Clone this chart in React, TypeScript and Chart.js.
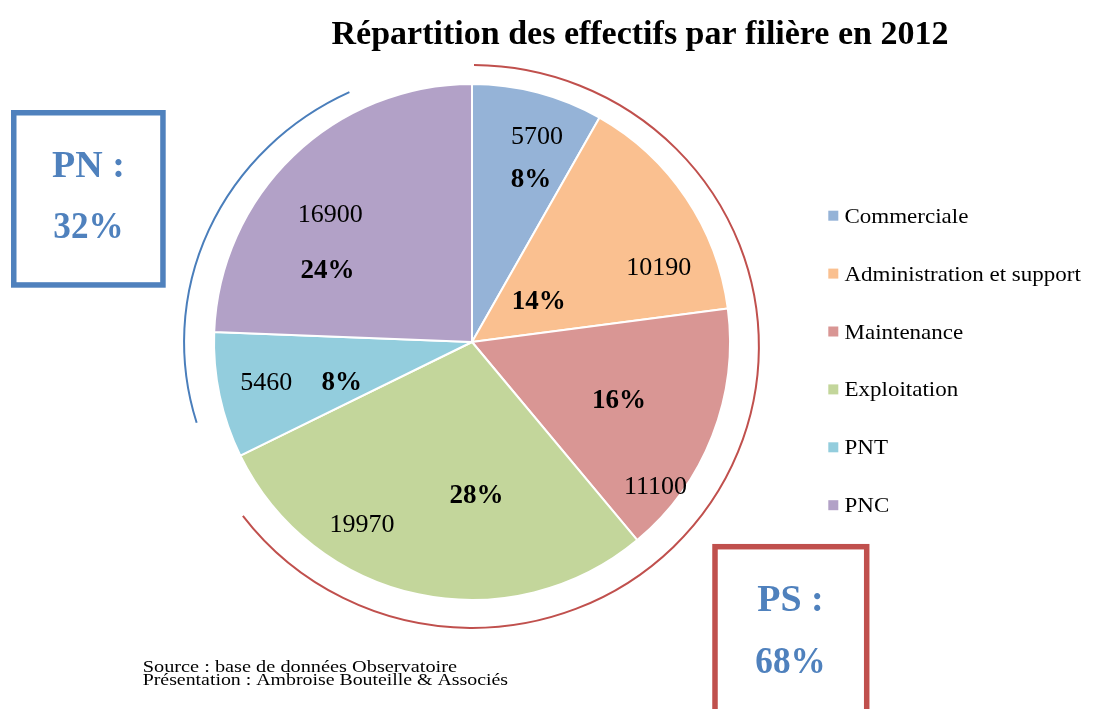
import React, { useEffect, useRef } from "react";
import { Chart, registerables } from "chart.js";

Chart.register(...registerables);

// ---- Data ----
const titleText = "Répartition des effectifs par filière en 2012";
const categories = ["Commerciale", "Administration et support", "Maintenance", "Exploitation", "PNT", "PNC"];
const effectifs = [5700, 10190, 11100, 19970, 5460, 16900];
const percentLabels = ["8%", "14%", "16%", "28%", "8%", "24%"];
const groupPN = ["PN :", "32%"];
const groupPS = ["PS :", "68%"];
const sourceLines = ["Source : base de données Observatoire", "Présentation : Ambroise Bouteille & Associés"];

// ---- Styles ----
const sliceColors = ["#95B3D7", "#FAC090", "#D99694", "#C3D69B", "#93CDDD", "#B2A1C7"];
const FONT = "'Liberation Serif', 'Times New Roman', serif";
const BLUE = "#4F81BD";
const RED = "#C0504D";

// label positions relative to pie centre, in units of the radius: [value dx, dy, percent dx, dy]
const labelPos = [
  [0.252, -0.803, 0.229, -0.638],
  [0.724, -0.295, 0.259, -0.163],
  [0.711, 0.554, 0.570, 0.221],
  [-0.426, 0.702, 0.017, 0.590],
  [-0.797, 0.152, -0.505, 0.149],
  [-0.549, -0.499, -0.560, -0.284],
];

function drawText(ctx: CanvasRenderingContext2D, text: string, x: number, y: number, font: string, color: string, align: CanvasTextAlign, sx = 1) {
  ctx.save();
  ctx.font = font;
  ctx.fillStyle = color;
  ctx.textAlign = align;
  ctx.textBaseline = "alphabetic";
  ctx.translate(x, y);
  ctx.scale(sx, 1);
  ctx.fillText(text, 0, 0);
  ctx.restore();
}

const decorPlugin = {
  id: "decor",
  afterDraw(chart: any) {
    const ctx: CanvasRenderingContext2D = chart.ctx;
    const arc = chart.getDatasetMeta(0).data[0];
    const cx = arc.x;
    const cy = arc.y;
    const r = arc.outerRadius;
    const deg = Math.PI / 180;

    // Title
    drawText(ctx, titleText, 640, 44, `bold 34px ${FONT}`, "#000", "center");

    // slice labels
    const vals = chart.data.datasets[0].data;
    vals.forEach((v: number, i: number) => {
      const p = labelPos[i];
      drawText(ctx, String(v), cx + p[0] * r, cy + p[1] * r + 8.8, `26px ${FONT}`, "#000", "center");
      drawText(ctx, percentLabels[i], cx + p[2] * r, cy + p[3] * r + 9.2, `bold 27px ${FONT}`, "#000", "center");
    });

    // Red arc (PS)
    ctx.save();
    ctx.strokeStyle = RED;
    ctx.lineWidth = 2;
    ctx.beginPath();
    ctx.ellipse(cx, cy + 0.0174 * r, 1.112 * r, 1.091 * r, 0, -89.6 * deg, 143.0 * deg, false);
    ctx.stroke();
    // Blue arc (PN)
    ctx.strokeStyle = "#4A7EBB";
    ctx.beginPath();
    ctx.ellipse(cx, cy, 1.116 * r, 1.07 * r, 0, 163 * deg, 244.8 * deg, false);
    ctx.stroke();
    ctx.restore();

    // Legend
    const colors = chart.data.datasets[0].backgroundColor;
    chart.data.labels.forEach((lab: string, i: number) => {
      const yc = 215.7 + 57.9 * i;
      ctx.fillStyle = colors[i];
      ctx.fillRect(828.3, yc - 5, 10, 10);
      drawText(ctx, lab, 844.5, yc + 7, `22px ${FONT}`, "#000", "left", 1.045);
    });

    // Boxes
    ctx.save();
    ctx.lineWidth = 5.5;
    ctx.strokeStyle = BLUE;
    ctx.strokeRect(13.75, 112.75, 149.2, 172.2);
    ctx.strokeStyle = RED;
    ctx.strokeRect(715, 546.7, 151.7, 200);
    ctx.restore();
    drawText(ctx, groupPN[0], 88.5, 177, `bold 38px ${FONT}`, BLUE, "center");
    drawText(ctx, groupPN[1], 88.5, 238.3, `bold 37px ${FONT}`, BLUE, "center", 0.95);
    drawText(ctx, groupPS[0], 790.5, 611, `bold 38px ${FONT}`, BLUE, "center");
    drawText(ctx, groupPS[1], 790.5, 672.7, `bold 37px ${FONT}`, BLUE, "center", 0.95);

    // Source
    drawText(ctx, sourceLines[0], 142.7, 671.5, `16px ${FONT}`, "#000", "left", 1.27);
    drawText(ctx, sourceLines[1], 142.7, 684.5, `16px ${FONT}`, "#000", "left", 1.24);
  },
};

export default function App() {
  const ref = useRef<HTMLCanvasElement | null>(null);
  useEffect(() => {
    if (!ref.current) return;
    const chart = new Chart(ref.current, {
      type: "pie",
      data: {
        labels: categories,
        datasets: [
          {
            data: effectifs,
            backgroundColor: sliceColors,
            borderColor: "#FFFFFF",
            borderWidth: 2,
            hoverOffset: 0,
            offset: 0,
          },
        ],
      },
      options: {
        responsive: false,
        animation: false,
        layout: { padding: { left: 213, right: 362, top: 83, bottom: 108 } },
        plugins: {
          legend: { display: false },
          title: { display: false },
          tooltip: { enabled: false },
        },
      },
      plugins: [decorPlugin],
    });
    return () => chart.destroy();
  }, []);
  return (
    <div style={{ position: "fixed", left: 0, top: 0, width: 1093, height: 709, background: "#fff" }}>
      <canvas ref={ref} width={1093} height={709} style={{ display: "block" }} />
    </div>
  );
}
